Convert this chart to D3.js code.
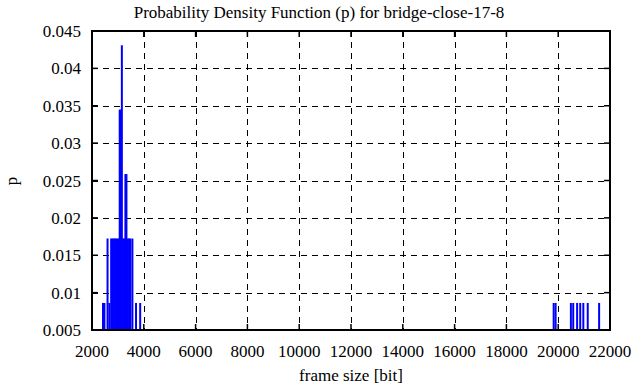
<!DOCTYPE html>
<html lang="en">
<head>
    <meta charset="UTF-8">
    <title>Probability Density Function (p) for bridge-close-17-8</title>
    <script src="https://d3js.org/d3.v7.min.js"></script>
    <style>
        body { margin: 0; background: #fff; }
        text { font-family: "Liberation Serif", "Times New Roman", serif; font-size: 17px; fill: #000; }
    </style>
</head>
<body>
    <div id="chart"></div>

    <script>
        // frame sizes [bit] and their probability
        const frameSizes = [
            2425, 2480, 2600, 2670,
            2740, 2790, 2840, 2890, 2940, 2990, 3040, 3070, 3100, 3153, 3200, 3240,
            3290, 3330, 3380, 3430, 3480, 3560, 3700, 3860,
            19825, 19900, 20490, 20580, 20730, 20850, 20970, 21140, 21580
        ];
        const pValues = [
            0.00862, 0.00862, 0.01724, 0.00862,
            0.01724, 0.01724, 0.01724, 0.01724, 0.01724, 0.01724, 0.01724, 0.03448, 0.03448, 0.04310, 0.01724, 0.01724,
            0.02586, 0.02586, 0.01724, 0.01724, 0.01724, 0.01724, 0.00862, 0.00862,
            0.00862, 0.00862, 0.00862, 0.00862, 0.00862, 0.00862, 0.00862, 0.00862, 0.00862
        ];
        const xTicks = [2000, 4000, 6000, 8000, 10000, 12000, 14000, 16000, 18000, 20000, 22000];
        const yTicks = [0.005, 0.01, 0.015, 0.02, 0.025, 0.03, 0.035, 0.04, 0.045];

        const data = frameSizes.map((s, i) => ({ size: s, p: pValues[i] }));

        const width = 636, height = 387;
        const plot = { left: 92, right: 610, top: 31, bottom: 330 };

        const svg = d3.select("#chart").append("svg")
            .attr("width", width)
            .attr("height", height);

        const x = d3.scaleLinear().domain([2000, 22000]).range([plot.left, plot.right]);
        const y = d3.scaleLinear().domain([0.005, 0.045]).range([plot.bottom, plot.top]);

        // grid
        svg.append("g").selectAll("line")
            .data(xTicks.slice(1, -1))
            .join("line")
            .attr("x1", d => Math.round(x(d)) + 0.5).attr("x2", d => Math.round(x(d)) + 0.5)
            .attr("y1", plot.top).attr("y2", plot.bottom)
            .attr("stroke", "#000").attr("stroke-dasharray", "6,5");
        svg.append("g").selectAll("line")
            .data(yTicks.slice(1, -1))
            .join("line")
            .attr("y1", d => Math.round(y(d)) + 0.5).attr("y2", d => Math.round(y(d)) + 0.5)
            .attr("x1", plot.left).attr("x2", plot.right)
            .attr("stroke", "#000").attr("stroke-dasharray", "6,5");

        // impulses
        svg.append("g").selectAll("line")
            .data(data)
            .join("line")
            .attr("x1", d => x(d.size)).attr("x2", d => x(d.size))
            .attr("y1", y(0.005)).attr("y2", d => y(d.p))
            .attr("stroke", "#0000ff").attr("stroke-width", 2);

        // ticks (inward, all four sides)
        const tickLen = 6;
        const ticks = svg.append("g").attr("stroke", "#000").attr("stroke-width", 1.5);
        xTicks.forEach(t => {
            ticks.append("line").attr("x1", x(t)).attr("x2", x(t)).attr("y1", plot.bottom).attr("y2", plot.bottom - tickLen);
            ticks.append("line").attr("x1", x(t)).attr("x2", x(t)).attr("y1", plot.top).attr("y2", plot.top + tickLen);
        });
        yTicks.forEach(t => {
            ticks.append("line").attr("y1", y(t)).attr("y2", y(t)).attr("x1", plot.left).attr("x2", plot.left + tickLen);
            ticks.append("line").attr("y1", y(t)).attr("y2", y(t)).attr("x1", plot.right).attr("x2", plot.right - tickLen);
        });

        // border
        svg.append("rect")
            .attr("x", plot.left).attr("y", plot.top)
            .attr("width", plot.right - plot.left).attr("height", plot.bottom - plot.top)
            .attr("fill", "none").attr("stroke", "#000").attr("stroke-width", 2);

        // tick labels
        svg.append("g").selectAll("text")
            .data(xTicks)
            .join("text")
            .attr("x", d => x(d)).attr("y", 357)
            .attr("text-anchor", "middle")
            .text(d => d);
        svg.append("g").selectAll("text")
            .data(yTicks)
            .join("text")
            .attr("x", 81).attr("y", d => y(d) + 6)
            .attr("text-anchor", "end")
            .text(d => d3.format(".3~f")(d));

        // titles
        svg.append("text")
            .attr("x", 319).attr("y", 18)
            .attr("text-anchor", "middle")
            .text("Probability Density Function (p) for bridge-close-17-8");
        svg.append("text")
            .attr("x", 351).attr("y", 381)
            .attr("text-anchor", "middle")
            .text("frame size [bit]");
        svg.append("text")
            .attr("transform", "translate(17,181) rotate(-90)")
            .attr("text-anchor", "middle")
            .text("p");
    </script>
</body>
</html>
